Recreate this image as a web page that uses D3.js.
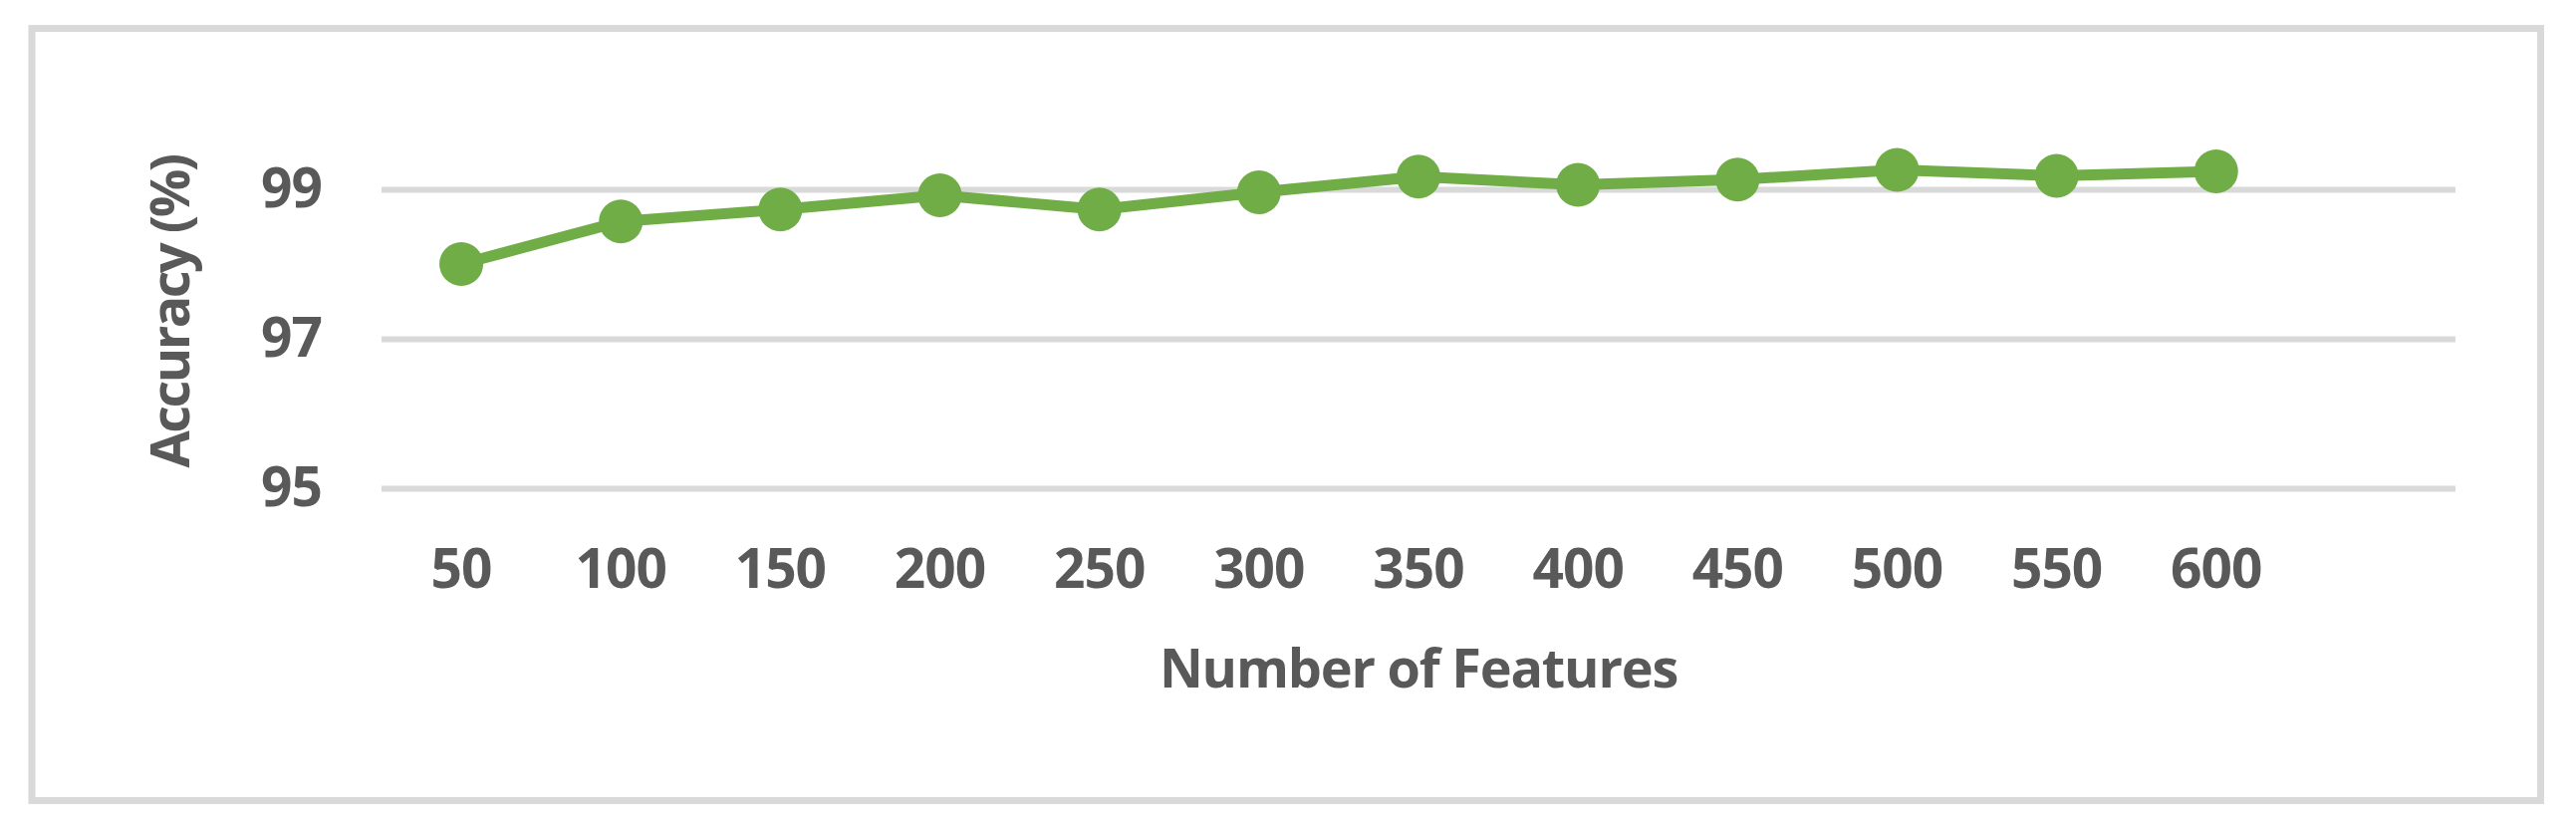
<!DOCTYPE html>
<html>
<head>
<meta charset="utf-8">
<script src="https://cdnjs.cloudflare.com/ajax/libs/d3/7.8.5/d3.min.js"></script>
<style>
  body { margin: 0; background: #fff; }
  text { font-family: "Open Sans", sans-serif; font-weight: 700; fill: #595959; }
</style>
</head>
<body>
<div id="plot"></div>
<script>
// data
var features = ["50", "100", "150", "200", "250", "300", "350", "400", "450", "500", "550", "600"];
var accuracy = [98.0, 98.57, 98.73, 98.92, 98.73, 98.96, 99.17, 99.06, 99.13, 99.26, 99.18, 99.24];
var yTicks = [95, 97, 99];

var width = 2586;
var height = 835;
var green = "#70ad47";
var grey = "#d9d9d9";

var plotLeft = 383, plotRight = 2465, plotTop = 190, plotBottom = 490;

var svg = d3.select("div#plot")
  .append("svg")
  .attr("width", width)
  .attr("height", height);

// outer frame
svg.append("rect")
  .attr("x", 32)
  .attr("y", 28.5)
  .attr("width", 2518.5)
  .attr("height", 775)
  .style("fill", "none")
  .style("stroke", grey)
  .style("stroke-width", 7);

// the category axis has one empty slot at the end
var x = d3.scaleBand()
  .domain(features.concat([""]))
  .range([plotLeft, plotRight])
  .paddingInner(0);

var y = d3.scaleLinear()
  .domain([95, 99])
  .range([plotBottom, plotTop]);

var yAxis = d3.axisLeft(y)
  .tickValues(yTicks)
  .tickFormat(d3.format("d"))
  .tickSizeInner(-(plotRight - plotLeft))
  .tickSizeOuter(0)
  .tickPadding(60);

var gy = svg.append("g")
  .attr("transform", "translate(" + plotLeft + ",0)")
  .call(yAxis);
gy.select(".domain").remove();
gy.selectAll("line").style("stroke", grey).style("stroke-width", 6);
gy.selectAll("text")
  .style("font-size", "55px")
  .style("letter-spacing", "-1px")
  .style("fill", "#595959");

var xAxis = d3.axisBottom(x)
  .tickSize(0)
  .tickPadding(61);

var gx = svg.append("g")
  .attr("transform", "translate(0," + plotBottom + ")")
  .call(xAxis);
gx.select(".domain").remove();
gx.selectAll("text")
  .style("font-size", "55px")
  .style("letter-spacing", "-1px")
  .style("fill", "#595959");

var line = d3.line()
  .x(function(d, i){ return x(features[i]) + x.bandwidth()/2; })
  .y(function(d){ return y(d); });

svg.append("path")
  .datum(accuracy)
  .attr("d", line)
  .style("fill", "none")
  .style("stroke", green)
  .style("stroke-width", 11)
  .style("stroke-linejoin", "round");

svg.selectAll("circle")
  .data(accuracy)
  .enter()
  .append("circle")
  .attr("cx", function(d, i){ return x(features[i]) + x.bandwidth()/2; })
  .attr("cy", function(d){ return y(d); })
  .attr("r", 22)
  .style("fill", green);

// axis titles
svg.append("text")
  .attr("x", (plotLeft + plotRight)/2)
  .attr("y", 690)
  .attr("text-anchor", "middle")
  .style("font-size", "54px")
  .style("letter-spacing", "-1.2px")
  .text("Number of Features");

svg.append("text")
  .attr("transform", "translate(190,313) rotate(-90)")
  .attr("text-anchor", "middle")
  .style("font-size", "54px")
  .style("letter-spacing", "-2.5px")
  .text("Accuracy (%)");
</script>
</body>
</html>
